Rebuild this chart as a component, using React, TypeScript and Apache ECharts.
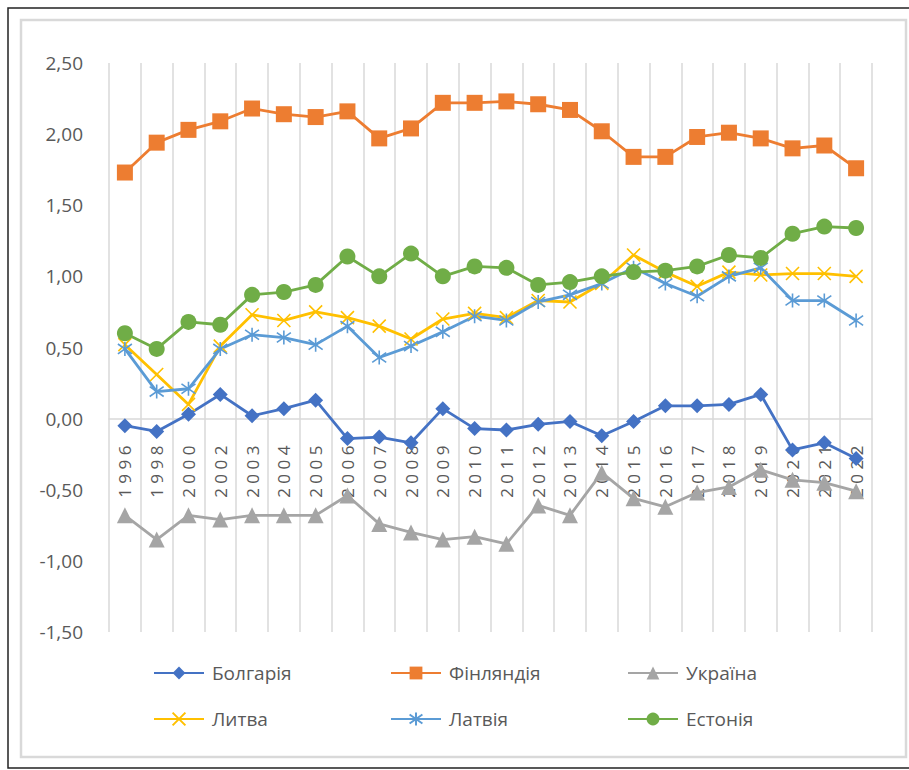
import React, { useEffect, useRef } from "react";
import * as echarts from "echarts";

const years = ["1996", "1998", "2000", "2002", "2003", "2004", "2005", "2006", "2007", "2008", "2009", "2010", "2011", "2012", "2013", "2014", "2015", "2016", "2017", "2018", "2019", "2020", "2021", "2022"];

const bulgaria = [-0.05, -0.09, 0.03, 0.17, 0.02, 0.07, 0.13, -0.14, -0.13, -0.17, 0.07, -0.07, -0.08, -0.04, -0.02, -0.12, -0.02, 0.09, 0.09, 0.1, 0.17, -0.22, -0.17, -0.28];
const finland = [1.73, 1.94, 2.03, 2.09, 2.18, 2.14, 2.12, 2.16, 1.97, 2.04, 2.22, 2.22, 2.23, 2.21, 2.17, 2.02, 1.84, 1.84, 1.98, 2.01, 1.97, 1.9, 1.92, 1.76];
const ukraine = [-0.68, -0.85, -0.68, -0.71, -0.68, -0.68, -0.68, -0.54, -0.74, -0.8, -0.85, -0.83, -0.88, -0.61, -0.68, -0.38, -0.56, -0.62, -0.52, -0.48, -0.36, -0.43, -0.45, -0.51];
const lithuania = [0.52, 0.31, 0.1, 0.51, 0.73, 0.69, 0.75, 0.71, 0.65, 0.56, 0.7, 0.74, 0.71, 0.83, 0.82, 0.95, 1.15, 1.03, 0.93, 1.03, 1.01, 1.02, 1.02, 1.0];
const latvia = [0.49, 0.19, 0.21, 0.49, 0.59, 0.57, 0.52, 0.65, 0.43, 0.51, 0.61, 0.72, 0.69, 0.82, 0.87, 0.95, 1.06, 0.95, 0.86, 1.0, 1.06, 0.83, 0.83, 0.69];
const estonia = [0.6, 0.49, 0.68, 0.66, 0.87, 0.89, 0.94, 1.14, 1.0, 1.16, 1.0, 1.07, 1.06, 0.94, 0.96, 1.0, 1.03, 1.04, 1.07, 1.15, 1.13, 1.3, 1.35, 1.34];

const seriesNames = ["Болгарія", "Фінляндія", "Україна", "Литва", "Латвія", "Естонія"];

const FONT = "'Open Sans', sans-serif";
const TXT = "#595959";

const X_PATH = "path://M0,0L10,10M10,0L0,10";
const STAR_PATH = "path://M5,0L5,10M0,1.5L10,8.5M10,1.5L0,8.5";

const Y_MIN = -1.5;
const Y_MAX = 2.5;
const GRID_TOP = 63;
const GRID_BOTTOM = 138;
const CHART_H = 770;

export default function App() {
  const ref = useRef<HTMLDivElement>(null);
  useEffect(() => {
    if (!ref.current) return;
    const chart = echarts.init(ref.current, null, { renderer: "svg" });

    const mk = (name: string, data: number[], color: string, symbol: string, size: number, stroke = false) => ({
      name,
      type: "line",
      data,
      symbol,
      symbolSize: size,
      lineStyle: { color, width: 2.8 },
      itemStyle: stroke
        ? { color: "rgba(0,0,0,0)", borderColor: color, borderWidth: 1.6 }
        : { color, borderColor: color, borderWidth: 0 },
      emphasis: { disabled: true },
    });

    const colors = ["#4472c4", "#ed7d31", "#a5a5a5", "#ffc000", "#5b9bd5", "#70ad47"];
    const legendPos = [
      [153, 662],
      [390, 662],
      [627, 662],
      [153, 708],
      [390, 708],
      [627, 708],
    ];

    const plotH = CHART_H - GRID_TOP - GRID_BOTTOM;
    const zeroOffset = -((0 - Y_MIN) / (Y_MAX - Y_MIN)) * plotH;

    chart.setOption({
      animation: false,
      backgroundColor: "#ffffff",
      grid: { left: 109, right: 37, top: GRID_TOP, bottom: GRID_BOTTOM, containLabel: false },
      xAxis: {
        type: "category",
        data: years,
        boundaryGap: true,
        position: "bottom",
        offset: zeroOffset,
        axisLine: { onZero: false, lineStyle: { color: "#d9d9d9", width: 1.5 } },
        axisTick: { show: false },
        axisLabel: {
          interval: 0,
          rotate: 90,
          margin: 27,
          color: TXT,
          fontFamily: FONT,
          fontSize: 17,
          formatter: (v: string) => v.split("").join(" "),
        },
        splitLine: { show: true, interval: 0, lineStyle: { color: "#d9d9d9", width: 1.5 } },
      },
      yAxis: {
        type: "value",
        min: Y_MIN,
        max: Y_MAX,
        interval: 0.5,
        axisLine: { show: false },
        axisTick: { show: false },
        splitLine: { show: false },
        axisLabel: {
          margin: 26,
          color: TXT,
          fontFamily: FONT,
          fontSize: 19,
          formatter: (v: number) => v.toFixed(2).replace(".", ","),
        },
      },
      legend: seriesNames.map((n, i) => ({
        data: [n],
        left: legendPos[i][0],
        top: legendPos[i][1],
        padding: 0,
        itemWidth: 50,
        itemHeight: 16,
        selectedMode: false,
        textStyle: { color: TXT, fontFamily: FONT, fontSize: 19, lineHeight: 22, padding: [0, 0, 0, 3] },
      })),
      graphic: [
        {
          type: "rect",
          shape: { x: 21, y: 20, width: 885, height: 737 },
          style: { fill: "none", stroke: "#d9d9d9", lineWidth: 2.5 },
          silent: true,
          z: -1,
        },
        {
          type: "rect",
          shape: { x: 8, y: 8, width: 920, height: 760 },
          style: { fill: "none", stroke: "#222222", lineWidth: 1.5 },
          silent: true,
          z: -1,
        },
      ],
      series: [
        mk(seriesNames[0], bulgaria, colors[0], "diamond", 15),
        mk(seriesNames[1], finland, colors[1], "rect", 16),
        mk(seriesNames[2], ukraine, colors[2], "triangle", 16),
        mk(seriesNames[3], lithuania, colors[3], X_PATH, 13, true),
        mk(seriesNames[4], latvia, colors[4], STAR_PATH, 14, true),
        mk(seriesNames[5], estonia, colors[5], "circle", 16),
      ],
    });
    return () => chart.dispose();
  }, []);
  return (
    <div
      ref={ref}
      style={{ position: "fixed", left: 0, top: 0, width: 909, height: 770 }}
    />
  );
}
